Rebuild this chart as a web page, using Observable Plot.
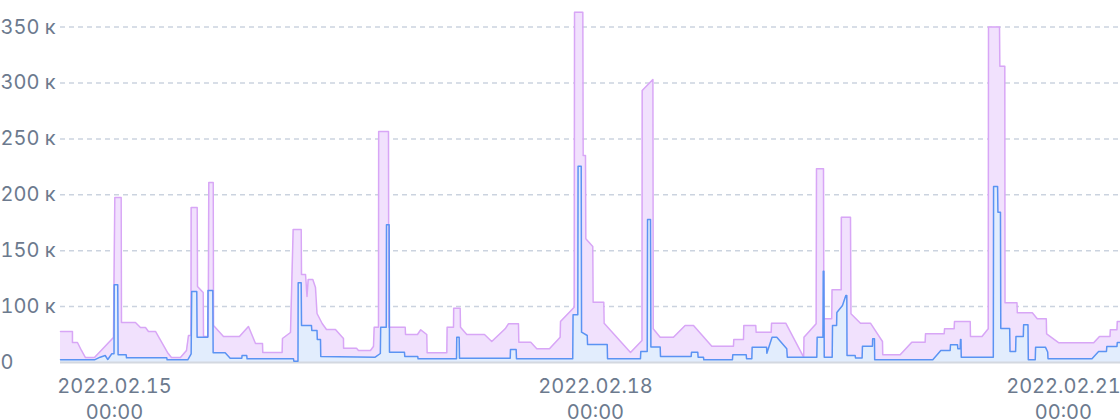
<!DOCTYPE html>
<html><head><meta charset="utf-8">
<script src="https://cdn.jsdelivr.net/npm/d3@7"></script>
<script src="https://cdn.jsdelivr.net/npm/@observablehq/plot@0.6"></script>
<style>body{margin:0;background:#fff;font-family:Inter,sans-serif}</style>
</head><body><div id="chart"></div>
<script>
// time origin 2022.02.15 00:00; series times are hours from it
const baseTime = Date.UTC(2022, 1, 15, 0, 0);
const xStartHour = -8.08, xEndHour = 150.6;
const xTickHours = [0, 72, 144];
const yTicks = [0, 100, 150, 200, 250, 300, 350]; // in thousands
const yScaleDomain = [0, 100, 350];

// [hour, value in thousands]
const purpleSeries = [
[-8.08,55.5],[-6.29,55.5],[-6.29,35.8],[-5.54,35.8],[-4.94,21.5],[-4.34,8.9],[-2.99,8.9],[-0.15,44.7],[0.05,197.6],[1.0,197.6],
[1.05,71.6],[3.14,71.6],[3.89,62.6],[4.64,62.6],[5.09,55.5],[6.14,55.5],[7.93,17.9],[8.53,8.9],[9.88,8.9],[10.78,21.5],
[11.08,48.3],[11.45,48.3],[11.48,188.6],[12.38,188.6],[12.43,118],[13.28,112.6],[13.33,46.5],[14.03,46.5],[14.12,211],[14.78,211],
[14.83,66.2],[16.32,46.5],[18.71,46.5],[20.06,64.4],[21.11,34],[22.16,34],[22.2,17.9],[25.1,17.9],[25.15,42.9],[26.35,53.7],
[26.75,169],[27.95,169],[28.0,128.7],[28.6,128.7],[28.82,109],[29.0,124.2],[29.69,124.2],[30.09,117.1],[30.32,87.7],[31.09,69.8],
[31.74,59],[33.08,59],[34.28,42.9],[34.3,25.6],[36.23,25.6],[36.53,21.5],[38.32,21.5],[38.77,28.6],[38.88,63.2],[39.52,63.2],
[39.55,256.6],[41.02,256.6],[41.07,63.2],[43.52,63.2],[43.57,50.1],[45.36,50.1],[45.85,58.5],[46.75,50.1],[46.8,17.4],[49.75,17.4],
[49.8,63.2],[50.75,63.2],[50.78,97.1],[51.75,97.1],[51.8,63.2],[52.74,50.1],[55.39,50.1],[56.48,37.6],[58.49,60.3],[58.98,69.2],
[60.48,69.2],[60.53,36.3],[62.32,36.3],[63.22,24.5],[65.12,24.5],[66.72,45.3],[66.77,73.3],[68.82,98.9],[68.87,363.3],[70.11,363.3],
[70.16,235.2],[70.51,235.2],[70.56,160.6],[71.6,153.8],[71.65,103.9],[73.25,103.9],[73.3,70.3],[77.25,17.9],[78.97,39.4],[79.0,293.3],
[80.6,303.1],[80.65,60.3],[81.69,45.3],[83.68,45.3],[85.43,66.2],[86.68,66.2],[89.42,29.2],[92.66,29.2],[92.71,41.1],[94.16,41.1],
[94.21,66.2],[96.0,66.2],[96.05,54.2],[98.31,54.2],[98.36,70.3],[100.49,70.3],[103.17,9.5],[103.22,45.3],[105.04,69.2],[105.09,223.3],
[106.14,223.3],[106.19,78.2],[107.37,78.2],[107.42,115],[108.79,115],[108.81,180],[110.18,180],[110.25,87.1],[111.68,70.3],[113.17,70.3],
[114.97,37.6],[115.01,13.8],[117.62,13.8],[119.36,36.3],[121.36,36.3],[121.41,51.3],[124.21,51.3],[124.26,60.3],[125.7,60.3],[125.75,73.3],
[128.1,73.3],[128.14,46.5],[129.87,46.5],[130.8,60.3],[130.84,350],[132.49,350],[132.54,315],[133.28,315],[133.31,103.4],[135.1,103.4],
[135.15,88.9],[137.4,88.9],[138.14,78.2],[139.49,78.2],[139.54,51.3],[141.38,35.2],[146.59,35.2],[147.46,46.5],[149.03,46.5],[149.08,58.7],
[150.07,58.7],[150.12,73.3],[150.6,73.3]
];

const blueSeries = [
[-8.08,4.8],[-2.99,4.8],[-2.14,9.5],[-1.39,12.5],[-1.0,5.4],[-0.4,15.6],[-0.07,15.6],[-0.04,119.5],[0.49,119.5],[0.54,13.8],
[1.75,13.8],[1.8,8.4],[7.83,8.4],[7.88,4.8],[10.97,4.8],[11.48,15.6],[11.56,113.5],[12.32,113.5],[12.37,45.3],[13.97,45.3],
[14.0,114.4],[14.72,114.4],[14.77,17.4],[16.57,17.4],[17.32,7.7],[19.06,7.7],[19.1,12.5],[19.8,12.5],[19.85,6.6],[26.8,6.6],
[26.85,2.3],[27.47,2.3],[27.5,121.3],[27.95,121.3],[28.0,66.2],[29.49,66.2],[29.54,57.2],[30.32,57.2],[30.36,41.1],[30.84,41.1],
[30.88,10.7],[39.03,9.5],[39.8,16.1],[39.85,63.2],[40.69,63.2],[40.72,173.2],[41.12,173.2],[41.17,18.4],[43.41,18.4],[43.46,10.7],
[45.4,10.7],[45.45,6.6],[51.2,6.6],[51.24,45.3],[51.6,45.3],[51.65,7.7],[59.24,7.7],[59.28,23.3],[60.13,23.3],[60.18,6.6],
[68.6,6.6],[68.65,85.3],[69.36,85.3],[69.4,225.6],[69.87,225.6],[69.92,54.2],[70.77,48.3],[70.82,32.2],[73.76,32.2],[73.81,6.6],
[78.74,6.6],[78.79,19.7],[79.75,19.7],[79.8,177.9],[80.24,177.9],[80.3,27.7],[81.69,27.7],[81.74,10.7],[86.33,10.7],[86.38,18.4],
[87.32,18.4],[87.37,9.5],[88.17,9.5],[88.22,4.8],[92.51,4.8],[92.56,13.8],[94.57,13.8],[94.62,6.6],[95.41,6.6],[95.46,27.4],
[97.62,27.4],[97.66,16.6],[98.44,45.3],[99.15,45.3],[100.64,24.5],[100.72,9.5],[105.14,9.5],[105.19,45.3],[106.06,45.3],[106.1,131.7],
[106.2,131.7],[106.25,9.5],[107.44,9.5],[107.49,66.2],[108.1,66.2],[108.14,89.6],[108.98,101],[109.48,109.9],[109.63,109.9],[109.66,12.5],
[110.88,12.5],[110.93,8.1],[111.92,8.1],[111.97,29.2],[113.47,29.2],[113.5,42.4],[113.77,42.4],[113.8,4.8],[122.5,4.8],[123.7,21.5],
[125.1,21.5],[125.15,31.7],[126.2,31.7],[126.25,24.5],[126.6,24.5],[126.65,41.1],[126.72,41.1],[126.76,9.5],[131.56,9.5],[131.6,207.4],
[132.2,207.4],[132.25,184.4],[132.63,184.4],[132.68,60.8],[134.01,60.8],[134.06,19.7],[134.9,19.7],[134.95,46.5],[136.05,46.5],[136.1,67.6],
[136.75,67.6],[136.8,4.8],[137.84,4.8],[137.89,27.4],[139.36,27.4],[139.7,18.8],[139.75,6.6],[146.33,6.6],[147.32,19.7],[148.5,19.7],
[148.55,28.6],[150.07,28.6],[150.12,35.8],[150.6,35.8]
];

const toDate = h => new Date(baseTime + h * 3600e3);
const purple = purpleSeries.map(([h, v]) => ({t: toDate(h), v}));
const blue = blueSeries.map(([h, v]) => ({t: toDate(h), v}));
const fmtDate = d3.utcFormat("%Y.%m.%d");
const fmtTime = d3.utcFormat("%H:%M");
const xTickFormat = d => fmtDate(d) + "\n" + fmtTime(d);
const textColor = "#6c7a8e";

const axisXOpts = {tickSize: 0, tickPadding: 12, tickFormat: xTickFormat, lineHeight: 1.3,
  fill: textColor, fontSize: 20, label: null};

const chart = Plot.plot({
  width: 1120, height: 420,
  marginLeft: 60, marginRight: 0, marginTop: 10, marginBottom: 58,
  style: {fontFamily: "Inter, sans-serif", fontSize: "20px", color: textColor, background: "#fff"},
  x: {type: "utc", domain: [toDate(xStartHour), toDate(xEndHour)], label: null},
  y: {type: "linear", domain: yScaleDomain, range: [362, 306.1, 26.6], label: null},
  marks: [
    Plot.gridY(yTicks.filter(d => d > 0), {stroke: "#cbd3df", strokeOpacity: 1, strokeWidth: 1.5, strokeDasharray: "5,4"}),
    Plot.areaY(purple, {x: "t", y1: 0, y2: "v", fill: "#f1e1fd"}),
    Plot.areaY(blue, {x: "t", y1: 0, y2: "v", fill: "#e2edfd"}),
    Plot.ruleY([0], {stroke: "#d3d8e0", strokeWidth: 2}),
    Plot.lineY(purple, {x: "t", y: "v", stroke: "#d8a6f6", strokeWidth: 1.5}),
    Plot.lineY(blue, {x: "t", y: "v", stroke: "#5b93f3", strokeWidth: 1.5}),
    Plot.axisY(yTicks, {tickSize: 0, tickPadding: 0, textAnchor: "start", dx: -60, label: null,
      tickFormat: d => d === 0 ? "0" : `${d} к`, fill: textColor, fontSize: 20}),
    Plot.axisX(xTickHours.slice(0, 2).map(toDate), axisXOpts),
    Plot.axisX(xTickHours.slice(2).map(toDate), {...axisXOpts, dx: -13})
  ]
});
document.getElementById("chart").appendChild(chart);
</script>
</body></html>
